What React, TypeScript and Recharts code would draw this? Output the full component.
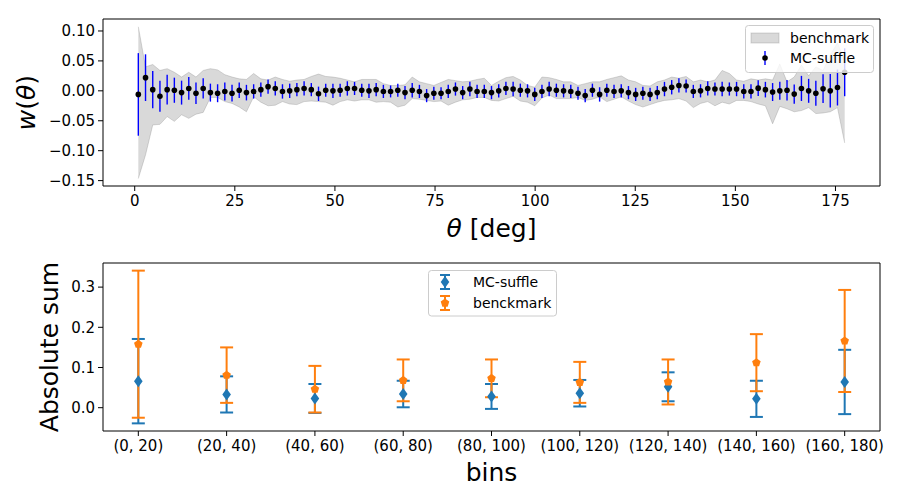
import { ComposedChart, Area, Scatter, ErrorBar, XAxis, YAxis, ReferenceArea, Label } from 'recharts'

const FONT = '"DejaVu Sans", Verdana, sans-serif'
const BLUE = '#1f77b4'
const ORANGE = '#ff7f0e'

// angular bin centres, deg
const THETA = [
  0.9, 2.7, 4.5, 6.3, 8.1, 9.9, 11.7, 13.5, 15.3, 17.1,
  18.9, 20.7, 22.5, 24.3, 26.1, 27.9, 29.7, 31.5, 33.3, 35.1,
  36.9, 38.7, 40.5, 42.3, 44.1, 45.9, 47.7, 49.5, 51.3, 53.1,
  54.9, 56.7, 58.5, 60.3, 62.1, 63.9, 65.7, 67.5, 69.3, 71.1,
  72.9, 74.7, 76.5, 78.3, 80.1, 81.9, 83.7, 85.5, 87.3, 89.1,
  90.9, 92.7, 94.5, 96.3, 98.1, 99.9, 101.7, 103.5, 105.3, 107.1,
  108.9, 110.7, 112.5, 114.3, 116.1, 117.9, 119.7, 121.5, 123.3, 125.1,
  126.9, 128.7, 130.5, 132.3, 134.1, 135.9, 137.7, 139.5, 141.3, 143.1,
  144.9, 146.7, 148.5, 150.3, 152.1, 153.9, 155.7, 157.5, 159.3, 161.1,
  162.9, 164.7, 166.5, 168.3, 170.1, 171.9, 173.7, 175.5, 177.3,
]

// MC-shuffle correlation w(theta) and its 1-sigma error
const W_MC = [
  -0.006, 0.022, 0.002, -0.009, 0.002, 0.001, -0.003, 0.004, -0.004, 0.004,
  -0.003, -0.004, -0.001, -0.004, 0.001, -0.003, -0.001, 0.002, 0.007, 0.004,
  -0.001, 0.0, 0.002, 0.004, 0.002, -0.005, 0.001, 0.0, 0.001, 0.004,
  0.004, 0.001, 0.0, 0.002, -0.001, -0.001, 0.001, -0.003, 0.001, -0.001,
  -0.008, -0.004, -0.004, -0.001, 0.003, -0.003, 0.003, -0.001, -0.001, -0.003,
  0.0, 0.004, 0.003, 0.001, 0.0, -0.006, -0.001, 0.003, 0.001, 0.0,
  -0.001, -0.004, -0.008, 0.001, -0.006, 0.001, -0.001, 0.0, -0.003, -0.006,
  -0.004, -0.006, -0.003, 0.003, 0.006, 0.009, 0.008, -0.001, 0.0, 0.004,
  0.003, 0.003, 0.003, 0.003, -0.001, -0.001, 0.0045, 0.002, -0.002, 0.0,
  0.001, -0.0055, 0.004, 0.0, -0.004, 0.0035, 0.0, 0.0055, 0.031,
]
const W_MC_ERR = [
  0.069, 0.039, 0.031, 0.026, 0.025, 0.021, 0.02, 0.019, 0.018, 0.017,
  0.015, 0.015, 0.015, 0.014, 0.013, 0.013, 0.012, 0.012, 0.012, 0.012,
  0.012, 0.012, 0.011, 0.012, 0.011, 0.012, 0.011, 0.012, 0.011, 0.012,
  0.011, 0.011, 0.012, 0.011, 0.011, 0.01, 0.011, 0.011, 0.012, 0.011,
  0.011, 0.011, 0.01, 0.011, 0.011, 0.011, 0.012, 0.011, 0.011, 0.011,
  0.011, 0.011, 0.012, 0.011, 0.011, 0.011, 0.011, 0.012, 0.011, 0.011,
  0.011, 0.011, 0.011, 0.011, 0.012, 0.011, 0.011, 0.011, 0.011, 0.011,
  0.011, 0.011, 0.011, 0.012, 0.012, 0.012, 0.011, 0.011, 0.011, 0.012,
  0.011, 0.012, 0.011, 0.012, 0.012, 0.012, 0.013, 0.013, 0.015, 0.015,
  0.017, 0.016, 0.021, 0.02, 0.021, 0.024, 0.028, 0.03, 0.04,
]

// benchmark envelope (lower / upper edge)
const BENCH_LO = [
  -0.1465, -0.107, -0.057, -0.056, -0.043, -0.051, -0.04, -0.046, -0.039, -0.036,
  -0.011, -0.011, -0.018, -0.021, -0.027, -0.035, -0.01, -0.019, -0.025, -0.024,
  -0.018, -0.022, -0.023, -0.018, -0.017, -0.018, -0.019, -0.024, -0.018, -0.015,
  -0.017, -0.015, -0.015, -0.019, -0.018, -0.019, -0.027, -0.024, -0.013, -0.014,
  -0.016, -0.018, -0.017, -0.024, -0.019, -0.015, -0.014, -0.011, -0.011, -0.016,
  -0.017, -0.013, -0.009, -0.017, -0.019, -0.025, -0.012, -0.007, -0.013, -0.013,
  -0.013, -0.011, -0.016, -0.014, -0.01, -0.018, -0.014, -0.01, -0.017, -0.023,
  -0.027, -0.023, -0.019, -0.016, -0.015, -0.013, -0.017, -0.028, -0.021, -0.018,
  -0.025, -0.019, -0.022, -0.016, -0.016, -0.018, -0.022, -0.025, -0.055, -0.026,
  -0.03, -0.035, -0.033, -0.028, -0.038, -0.037, -0.035, -0.028, -0.087,
]
const BENCH_HI = [
  0.107, 0.04, 0.044, 0.034, 0.037, 0.031, 0.023, 0.031, 0.023, 0.034,
  0.037, 0.035, 0.027, 0.023, 0.02, 0.019, 0.029, 0.02, 0.018, 0.023,
  0.019, 0.016, 0.018, 0.019, 0.024, 0.028, 0.024, 0.023, 0.021, 0.018,
  0.015, 0.019, 0.019, 0.019, 0.012, 0.009, 0.009, 0.01, 0.023, 0.015,
  0.012, 0.009, 0.014, 0.019, 0.017, 0.015, 0.016, 0.019, 0.021, 0.009,
  0.016, 0.022, 0.024, 0.018, 0.009, 0.006, 0.023, 0.022, 0.019, 0.015,
  0.015, 0.009, 0.012, 0.015, 0.015, 0.019, 0.022, 0.025, 0.018, 0.015,
  0.009, 0.008, 0.015, 0.018, 0.023, 0.021, 0.024, 0.015, 0.018, 0.015,
  0.018, 0.034, 0.029, 0.018, 0.016, 0.02, 0.018, 0.02, 0.018, 0.045,
  0.015, 0.023, 0.043, 0.025, 0.04, 0.034, 0.06, 0.08, 0.05,
]

const TOP_X_TICKS = [0, 25, 50, 75, 100, 125, 150, 175]
const TOP_Y_TICKS = [-0.15, -0.1, -0.05, 0, 0.05, 0.1]

// absolute sum per 20-degree bin
const BIN_LABELS = ['(0, 20)', '(20, 40)', '(40, 60)', '(60, 80)', '(80, 100)', '(100, 120)', '(120, 140)', '(140, 160)', '(160, 180)']
const BIN_POS = [0, 1, 2, 3, 4, 5, 6, 7, 8]
const MC_SUM = [0.066, 0.033, 0.023, 0.034, 0.028, 0.036, 0.052, 0.022, 0.064]
const MC_SUM_ERR = [0.105, 0.045, 0.036, 0.033, 0.031, 0.033, 0.036, 0.045, 0.08]
const BENCH_SUM = [0.158, 0.081, 0.046, 0.068, 0.073, 0.063, 0.064, 0.112, 0.166]
const BENCH_SUM_ERR = [0.183, 0.069, 0.058, 0.052, 0.047, 0.051, 0.056, 0.071, 0.127]
const SUM_Y_TICKS = [0, 0.1, 0.2, 0.3]

const TOP_X_DOMAIN: [number, number] = [-7.92, 186.12]
const TOP_Y_DOMAIN: [number, number] = [-0.159, 0.12]
const SUM_X_DOMAIN: [number, number] = [-0.4, 8.4]
const SUM_Y_DOMAIN: [number, number] = [-0.058, 0.36]

const topData = THETA.map((theta, i) => ({
  theta,
  w: W_MC[i],
  err: W_MC_ERR[i],
  band: [BENCH_LO[i], BENCH_HI[i]],
}))

const sumData = BIN_POS.map((bin, i) => ({
  bin,
  mc: MC_SUM[i],
  mcErr: MC_SUM_ERR[i],
  bench: BENCH_SUM[i],
  benchErr: BENCH_SUM_ERR[i],
}))

const tickStyle = { fill: '#000', fontSize: 15, fontFamily: FONT }
const tickLine = { stroke: '#000', strokeWidth: 1 }
const fmtMinus = (s: string) => s.replace('-', '\u2212')

const Dot = (p: any) => <circle cx={p.cx} cy={p.cy} r={2.8} fill="#000" />
const Blank = () => <g />
const diamondPts = (x: number, y: number) => `${x},${y - 6} ${x + 4.3},${y} ${x},${y + 6} ${x - 4.3},${y}`
const pentagonPts = (x: number, y: number, r = 4.5) =>
  [0, 1, 2, 3, 4]
    .map(k => {
      const a = ((-90 + 72 * k) * Math.PI) / 180
      return `${x + r * Math.cos(a)},${y + r * Math.sin(a)}`
    })
    .join(' ')
const Diamond = (p: any) => <polygon points={diamondPts(p.cx, p.cy)} fill={BLUE} />
const Pentagon = (p: any) => <polygon points={pentagonPts(p.cx, p.cy)} fill={ORANGE} />

function ThetaChart() {
  return (
    <ComposedChart width={900} height={250} data={topData} margin={{ top: 19, right: 20, bottom: 34, left: 0 }}>
      <XAxis
        dataKey="theta" type="number" domain={TOP_X_DOMAIN} allowDataOverflow ticks={TOP_X_TICKS} interval={0}
        tick={tickStyle} tickLine={tickLine} axisLine={false} tickSize={5} tickMargin={4} height={30}
      >
        <Label content={() => (
          <text x={491.5} y={237} textAnchor="middle" fontSize={25} fontFamily={FONT} fill="#000">
            <tspan fontStyle="italic">θ</tspan> [deg]
          </text>
        )} />
      </XAxis>
      <YAxis
        type="number" domain={TOP_Y_DOMAIN} allowDataOverflow ticks={TOP_Y_TICKS} interval={0}
        tickFormatter={(v: number) => fmtMinus(v.toFixed(2))}
        tick={tickStyle} tickLine={tickLine} axisLine={false} tickSize={5} tickMargin={3} width={103}
      >
        <Label content={() => (
          <text x={35} y={102.5} transform="rotate(-90 35 102.5)" textAnchor="middle" fontSize={25} fontFamily={FONT} fill="#000">
            <tspan fontStyle="italic">w</tspan>(<tspan fontStyle="italic">θ</tspan>)
          </text>
        )} />
      </YAxis>
      <Area
        dataKey="band" type="linear" fill="#808080" fillOpacity={0.3}
        stroke="#808080" strokeOpacity={0.3} strokeWidth={1} dot={false} activeDot={false} isAnimationActive={false}
      />
      <Scatter dataKey="w" shape={Dot} isAnimationActive={false}>
        <ErrorBar dataKey="err" direction="y" width={0} stroke="#0000ff" strokeWidth={1.4} />
      </Scatter>
      <ReferenceArea
        x1={TOP_X_DOMAIN[0]} x2={TOP_X_DOMAIN[1]} y1={TOP_Y_DOMAIN[0]} y2={TOP_Y_DOMAIN[1]}
        fill="none" stroke="#000" strokeWidth={1} fillOpacity={0}
      />
    </ComposedChart>
  )
}

function SumChart() {
  return (
    <ComposedChart width={900} height={250} data={sumData} margin={{ top: 13, right: 20, bottom: 39, left: 0 }}>
      <XAxis
        dataKey="bin" type="number" domain={SUM_X_DOMAIN} allowDataOverflow ticks={BIN_POS} interval={0}
        tickFormatter={(v: number) => BIN_LABELS[v]}
        tick={tickStyle} tickLine={tickLine} axisLine={false} tickSize={5} tickMargin={4} height={30}
      >
        <Label content={() => (
          <text x={491.5} y={231} textAnchor="middle" fontSize={25} fontFamily={FONT} fill="#000">bins</text>
        )} />
      </XAxis>
      <YAxis
        type="number" domain={SUM_Y_DOMAIN} allowDataOverflow ticks={SUM_Y_TICKS} interval={0}
        tickFormatter={(v: number) => v.toFixed(1)}
        tick={tickStyle} tickLine={tickLine} axisLine={false} tickSize={5} tickMargin={3} width={103}
      >
        <Label content={() => (
          <text x={58} y={97} transform="rotate(-90 58 97)" textAnchor="middle" fontSize={25} fontFamily={FONT} fill="#000">
            Absolute sum
          </text>
        )} />
      </YAxis>
      {/* error bars first, markers on top */}
      <Scatter dataKey="mc" shape={Blank} isAnimationActive={false}>
        <ErrorBar dataKey="mcErr" direction="y" width={6.5} stroke={BLUE} strokeWidth={2} />
      </Scatter>
      <Scatter dataKey="bench" shape={Blank} isAnimationActive={false}>
        <ErrorBar dataKey="benchErr" direction="y" width={6.5} stroke={ORANGE} strokeWidth={2} />
      </Scatter>
      <Scatter dataKey="mc" shape={Diamond} isAnimationActive={false} />
      <Scatter dataKey="bench" shape={Pentagon} isAnimationActive={false} />
      <ReferenceArea
        x1={SUM_X_DOMAIN[0]} x2={SUM_X_DOMAIN[1]} y1={SUM_Y_DOMAIN[0]} y2={SUM_Y_DOMAIN[1]}
        fill="none" stroke="#000" strokeWidth={1} fillOpacity={0}
      />
    </ComposedChart>
  )
}

function Legends() {
  const txt = { fontSize: 14, fontFamily: FONT, fill: '#000', dominantBaseline: 'central' as const }
  return (
    <svg width={900} height={500} style={{ position: 'absolute', left: 0, top: 0, pointerEvents: 'none' }}>
      {/* top panel legend */}
      <rect x={745.5} y={25.5} width={128} height={47} rx={3} fill="#fff" fillOpacity={0.8} stroke="#cccccc" />
      <rect x={751} y={33} width={28} height={10} fill="#808080" fillOpacity={0.3} stroke="#808080" strokeOpacity={0.3} />
      <text x={790} y={37.5} {...txt}>benchmark</text>
      <line x1={765} x2={765} y1={51} y2={65} stroke="#0000ff" strokeWidth={1.4} />
      <circle cx={765} cy={58} r={2.8} fill="#000" />
      <text x={790} y={58} {...txt}>MC-suffle</text>

      {/* bottom panel legend */}
      <rect x={428.5} y={270.5} width={128} height={45.5} rx={3} fill="#fff" fillOpacity={0.8} stroke="#cccccc" />
      <line x1={445} x2={445} y1={275} y2={289} stroke={BLUE} strokeWidth={2} />
      <line x1={440} x2={450} y1={275} y2={275} stroke={BLUE} strokeWidth={2} />
      <line x1={440} x2={450} y1={289} y2={289} stroke={BLUE} strokeWidth={2} />
      <polygon points={diamondPts(445, 282)} fill={BLUE} />
      <text x={473} y={282} {...txt}>MC-suffle</text>
      <line x1={445} x2={445} y1={296} y2={310} stroke={ORANGE} strokeWidth={2} />
      <line x1={440} x2={450} y1={296} y2={296} stroke={ORANGE} strokeWidth={2} />
      <line x1={440} x2={450} y1={310} y2={310} stroke={ORANGE} strokeWidth={2} />
      <polygon points={pentagonPts(445, 303)} fill={ORANGE} />
      <text x={473} y={302.5} {...txt}>benckmark</text>
    </svg>
  )
}

export default function App() {
  return (
    <div style={{ position: 'absolute', left: 0, top: 0, width: 900, height: 500, background: '#fff', fontFamily: FONT }}>
      <div style={{ position: 'absolute', left: 0, top: 0 }}>
        <ThetaChart />
      </div>
      <div style={{ position: 'absolute', left: 0, top: 250 }}>
        <SumChart />
      </div>
      <Legends />
    </div>
  )
}
